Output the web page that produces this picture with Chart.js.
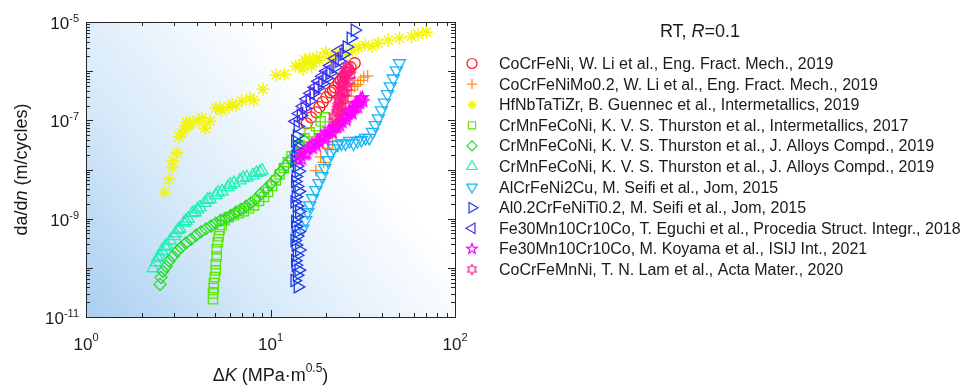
<!DOCTYPE html>
<html>
<head>
<meta charset="utf-8">
<script src="https://cdn.jsdelivr.net/npm/chart.js@4.4.1/dist/chart.umd.min.js"></script>
<style>
  body { margin: 0; background: #fff; }
  canvas { display: block; }
</style>
</head>
<body>
<canvas id="crackChart" width="968" height="387"></canvas>
<script>
// ΔK (MPa·m^0.5) ve da/dN (m/cycle) değerleri
const kCoCrFeNi = [15.7, 16.6, 17.7, 18.4, 19.2, 20.1, 21.1, 21.8, 22.3, 23.4, 24.0, 24.6, 25.8, 26.5, 27.2, 28.6];
const daCoCrFeNi = [8.7e-8, 1.15e-7, 1.45e-7, 1.85e-7, 2.35e-7, 2.95e-7, 3.7e-7, 4.0e-7, 4.7e-7, 5.9e-7, 6.5e-7, 7.5e-7, 9.5e-7, 1.05e-6, 1.2e-6, 1.45e-6];

const kMo = [17.6, 18.7, 19.4, 20.4, 21.7, 22.5, 23.6, 24.6, 25.5, 26.4, 27.5, 28.6, 29.7, 30.8, 32.0, 33.6];
const daMo = [9.5e-9, 1.8e-8, 1.4e-8, 2.7e-8, 3.7e-8, 5.7e-8, 1.0e-7, 1.6e-7, 2.2e-7, 3.1e-7, 4.1e-7, 4.9e-7, 5.4e-7, 6.5e-7, 7.6e-7, 8.0e-7];

const kHf = [2.68, 2.82, 2.93, 2.96, 3.12, 3.19, 3.30, 3.40, 3.50, 3.57, 3.65, 3.80, 4.10, 4.25, 4.41, 4.70, 5.06, 5.30, 5.45, 5.95, 6.2, 6.49, 7.0, 7.73, 8.1, 9.09, 10.7, 11.9, 13.7, 14.3, 15.0, 15.3, 15.7, 16.3, 16.7, 17.1, 17.8, 18.5, 19.9, 21.2, 22.4, 23.6, 25.6, 27.8, 30.0, 32.6, 35.5, 38.3, 43.5, 50.0, 58.0, 63.0, 70.0];
const daHf = [3.5e-9, 6.3e-9, 1.1e-8, 1.5e-8, 2.2e-8, 4.6e-8, 5.5e-8, 6.3e-8, 9.0e-8, 7.9e-8, 8.5e-8, 9.1e-8, 1.0e-7, 1.1e-7, 6.9e-8, 9.6e-8, 1.77e-7, 1.8e-7, 1.6e-7, 1.9e-7, 2.1e-7, 2.0e-7, 2.5e-7, 2.8e-7, 2.55e-7, 4.3e-7, 8.3e-7, 8.7e-7, 1.26e-6, 1.3e-6, 1.1e-6, 1.7e-6, 1.5e-6, 1.8e-6, 1.25e-6, 1.45e-6, 1.9e-6, 1.66e-6, 2.4e-6, 1.8e-6, 2.0e-6, 2.4e-6, 2.3e-6, 2.65e-6, 3.0e-6, 3.4e-6, 3.2e-6, 3.7e-6, 4.3e-6, 4.7e-6, 5.1e-6, 5.6e-6, 6.2e-6];

const kThur17 = [4.88, 4.88, 4.93, 4.93, 4.99, 5.05, 5.05, 5.11, 5.11, 5.17, 5.24, 5.30, 5.44, 5.65, 5.94, 6.34, 6.75, 7.18, 7.65, 8.14, 8.67, 9.23, 9.70, 10.2, 10.7, 11.2, 11.8, 12.4, 13.0, 14.4, 15.3, 16.3, 17.6, 18.7, 19.7];
const daThur17 = [2.3e-11, 3.0e-11, 3.9e-11, 4.9e-11, 6.5e-11, 8.9e-11, 1.2e-10, 1.7e-10, 2.4e-10, 3.3e-10, 4.4e-10, 5.9e-10, 7.4e-10, 9.3e-10, 1.07e-9, 1.17e-9, 1.29e-9, 1.41e-9, 1.62e-9, 1.86e-9, 2.3e-9, 2.75e-9, 3.5e-9, 4.6e-9, 6.0e-9, 7.9e-9, 1.07e-8, 1.41e-8, 1.86e-8, 3.1e-8, 4.3e-8, 5.7e-8, 7.6e-8, 9.6e-8, 1.15e-7];

const kThur19a = [2.52, 2.55, 2.61, 2.72, 2.82, 2.96, 3.12, 3.27, 3.48, 3.71, 3.95, 4.20, 4.47, 4.76, 5.05, 5.39, 5.74, 6.10, 6.49, 6.91, 7.35, 7.83, 8.32, 8.86, 9.43, 10.0, 10.7, 11.4, 12.1, 12.9, 13.7, 14.4, 15.2];
const daThur19a = [4.6e-11, 6.4e-11, 8.5e-11, 1.07e-10, 1.38e-10, 1.73e-10, 2.2e-10, 2.6e-10, 3.2e-10, 3.8e-10, 4.6e-10, 5.4e-10, 6.2e-10, 7.1e-10, 8.1e-10, 9.3e-10, 1.02e-9, 1.17e-9, 1.35e-9, 1.55e-9, 1.78e-9, 2.1e-9, 2.5e-9, 3.2e-9, 4.0e-9, 5.0e-9, 6.6e-9, 9.1e-9, 1.2e-8, 1.6e-8, 2.2e-8, 3.1e-8, 3.9e-8];

const kThur19b = [2.31, 2.40, 2.45, 2.52, 2.58, 2.68, 2.75, 2.86, 3.00, 3.05, 3.15, 3.22, 3.40, 3.48, 3.58, 3.78, 3.90, 4.02, 4.15, 4.41, 4.55, 4.70, 5.05, 5.2, 5.46, 5.88, 6.05, 6.34, 6.83, 7.1, 7.44, 8.03, 8.4, 8.75, 9.0];
const daThur19b = [9.8e-11, 1.3e-10, 1.6e-10, 1.7e-10, 2.2e-10, 2.7e-10, 2.8e-10, 3.6e-10, 4.4e-10, 5.0e-10, 5.9e-10, 6.3e-10, 8.3e-10, 8.9e-10, 1.0e-9, 1.3e-9, 1.35e-9, 1.55e-9, 1.7e-9, 2.1e-9, 2.4e-9, 2.5e-9, 3.0e-9, 3.4e-9, 3.6e-9, 4.4e-9, 4.9e-9, 5.3e-9, 6.0e-9, 6.7e-9, 6.9e-9, 7.6e-9, 8.5e-9, 8.9e-9, 9.5e-9];

const kAlCu = [14.96, 15.5, 15.9, 16.3, 16.9, 17.6, 18.3, 19.0, 19.7, 20.4, 21.2, 22.0, 23.1, 24.3, 25.5, 26.8, 28.2, 29.6, 31.1, 32.7, 34.3, 35.7, 37.0, 38.4, 39.9, 41.4, 43.0, 44.6, 46.3, 48.1, 50.0];
const daAlCu = [6.3e-10, 9.3e-10, 1.35e-9, 1.86e-9, 2.6e-9, 3.8e-9, 5.3e-9, 7.3e-9, 1.07e-8, 1.55e-8, 2.15e-8, 2.7e-8, 3.2e-8, 3.4e-8, 3.4e-8, 3.8e-8, 3.4e-8, 3.8e-8, 4.0e-8, 4.4e-8, 4.4e-8, 5.8e-8, 8.0e-8, 1.1e-7, 1.6e-7, 2.3e-7, 3.4e-7, 4.9e-7, 7.1e-7, 1.04e-6, 1.45e-6];

const kAlTi = [14.05, 13.9, 13.7, 13.9, 13.7, 13.9, 13.7, 13.9, 13.9, 13.7, 13.9, 13.7, 13.9, 13.7, 13.9, 13.9, 14.05, 13.5, 14.2, 13.6, 14.3, 13.5, 14.2, 13.6, 14.3, 13.5, 14.2, 13.6, 14.2, 13.5, 14.1, 13.6, 14.6, 15.3, 16.3, 17.1, 18.0, 19.1, 20.1, 21.1, 22.5, 23.6, 24.9, 25.9, 27.2, 28.6];
const daAlTi = [4.1e-11, 7.1e-11, 1.13e-10, 1.8e-10, 2.9e-10, 4.4e-10, 6.9e-10, 1.1e-9, 1.8e-9, 2.8e-9, 4.5e-9, 7.2e-9, 1.17e-8, 1.87e-8, 2.96e-8, 4.8e-8, 7.6e-8, 5.5e-11, 9.0e-11, 1.4e-10, 2.3e-10, 3.6e-10, 5.5e-10, 8.7e-10, 1.4e-9, 2.2e-9, 3.6e-9, 5.7e-9, 9.2e-9, 1.5e-8, 2.4e-8, 3.8e-8, 1.26e-7, 1.77e-7, 2.47e-7, 3.55e-7, 4.5e-7, 5.6e-7, 7.2e-7, 9.1e-7, 1.2e-6, 1.6e-6, 2.2e-6, 3.1e-6, 4.7e-6, 6.8e-6];

const kEguchi = [13.7, 14.3, 15.0, 15.7, 16.5, 17.4, 18.2, 19.1, 20.1, 21.1, 22.3, 23.4];
const daEguchi = [9.5e-8, 1.38e-7, 1.93e-7, 2.7e-7, 3.55e-7, 4.7e-7, 6.2e-7, 7.9e-7, 1.0e-6, 1.3e-6, 1.8e-6, 2.6e-6];

const kKoyama = [14.2, 14.5, 14.8, 15.0, 15.5, 15.8, 16.0, 16.5, 16.8, 17.0, 17.5, 17.8, 18.0, 18.5, 18.8, 19.0, 19.5, 19.8, 20.0, 20.5, 20.8, 21.0, 21.5, 21.8, 22.0, 22.5, 22.8, 23.0, 23.5, 23.8, 24.0, 24.5, 24.8, 25.0, 25.5, 25.8, 26.0, 26.5, 26.8, 27.0, 27.5, 27.8, 28.0, 28.5, 28.8, 29.0, 29.5, 29.8, 30.0, 30.5, 30.8, 31.0, 31.5, 31.8];
const daKoyama = [1.6e-8, 1.9e-8, 1.6e-8, 2.2e-8, 2.0e-8, 2.1e-8, 2.6e-8, 2.9e-8, 3.3e-8, 2.7e-8, 3.4e-8, 3.0e-8, 3.8e-8, 3.5e-8, 4.9e-8, 4.4e-8, 4.8e-8, 4.0e-8, 4.5e-8, 5.6e-8, 6.6e-8, 6.0e-8, 5.8e-8, 5.5e-8, 7.0e-8, 7.5e-8, 8.5e-8, 7.2e-8, 8.6e-8, 7.6e-8, 9.5e-8, 9.0e-8, 1.25e-7, 1.1e-7, 1.2e-7, 1.0e-7, 1.15e-7, 1.35e-7, 1.6e-7, 1.5e-7, 1.45e-7, 1.35e-7, 1.7e-7, 1.85e-7, 2.2e-7, 1.8e-7, 2.1e-7, 1.8e-7, 2.3e-7, 2.2e-7, 2.8e-7, 2.6e-7, 2.9e-7, 2.4e-7];

const kLam = [22.0, 22.5, 22.8, 23.0, 23.2, 23.4, 23.6, 23.7, 23.9, 24.0, 24.2, 24.3, 24.3, 24.5, 24.6, 24.7, 24.9, 24.9, 25.0, 25.1, 25.2, 25.4, 25.5, 25.5, 25.9, 26.1, 26.1, 26.4, 26.8, 27.2];
const daLam = [1.2e-7, 1.0e-7, 1.45e-7, 1.7e-7, 1.9e-7, 2.6e-7, 2.3e-7, 3.2e-7, 1.6e-7, 4.1e-7, 2.9e-7, 4.9e-7, 2.0e-7, 5.2e-7, 5.9e-7, 3.8e-7, 7.2e-7, 2.7e-7, 5.4e-7, 7.8e-7, 8.7e-7, 6.6e-7, 1.05e-6, 3.6e-7, 9.5e-7, 1.26e-6, 4.7e-7, 1.15e-6, 6.4e-7, 8.3e-7];

const legendLabels = [
  "CoCrFeNi, W. Li et al., Eng. Fract. Mech., 2019",
  "CoCrFeNiMo0.2, W. Li et al., Eng. Fract. Mech., 2019",
  "HfNbTaTiZr, B. Guennec et al., Intermetallics, 2019",
  "CrMnFeCoNi, K. V. S. Thurston et al., Intermetallics, 2017",
  "CrMnFeCoNi, K. V. S. Thurston et al., J. Alloys Compd., 2019",
  "CrMnFeCoNi, K. V. S. Thurston et al., J. Alloys Compd., 2019",
  "AlCrFeNi2Cu, M. Seifi et al., Jom, 2015",
  "Al0.2CrFeNiTi0.2, M. Seifi et al., Jom, 2015",
  "Fe30Mn10Cr10Co, T. Eguchi et al., Procedia Struct. Integr., 2018",
  "Fe30Mn10Cr10Co, M. Koyama et al., ISIJ Int., 2021",
  "CoCrFeMnNi, T. N. Lam et al., Acta Mater., 2020",
];
const xTickExps = [0, 1, 2];
const yTickExps = [-5, -7, -9, -11];

const FONT = 'Arial, "Liberation Sans", sans-serif';

// Yıldız şekilli işaretçiler (pentagram, hexagram) için küçük canvas
function starMarker(points, rOut, rIn, color, lw) {
  const s = Math.ceil(rOut * 2 + lw * 2 + 2);
  const c = document.createElement("canvas");
  c.width = s; c.height = s;
  const g = c.getContext("2d");
  g.strokeStyle = color;
  g.lineWidth = lw;
  g.beginPath();
  for (let i = 0; i < points * 2; i++) {
    const r = i % 2 ? rIn : rOut;
    const a = -Math.PI / 2 + i * Math.PI / points;
    const px = s / 2 + r * Math.cos(a), py = s / 2 + r * Math.sin(a);
    if (i === 0) g.moveTo(px, py); else g.lineTo(px, py);
  }
  g.closePath();
  g.stroke();
  return c;
}

const toPts = (k, da) => k.map((v, i) => ({ x: v, y: da[i] }));

const series = [
  { k: kCoCrFeNi, da: daCoCrFeNi, color: "#ff1a1a", style: "circle", r: 5.5 },
  { k: kMo, da: daMo, color: "#ff8a1a", style: "cross", r: 6 },
  { k: kHf, da: daHf, color: "#f2f50a", style: "star", r: 6.5, lw: 1.5 },
  { k: kThur17, da: daThur17, color: "#5ce600", style: "rect", r: 6.5 },
  { k: kThur19a, da: daThur19a, color: "#22dd22", style: "rectRot", r: 6 },
  { k: kThur19b, da: daThur19b, color: "#1ff0b4", style: "triangle", r: 7 },
  { k: kAlCu, da: daAlCu, color: "#1ab4f5", style: "triangle", r: 7, rot: 180 },
  { k: kAlTi, da: daAlTi, color: "#1a3ce6", style: "triangle", r: 7, rot: 90 },
  { k: kEguchi, da: daEguchi, color: "#4b2cf0", style: "triangle", r: 7, rot: -90 },
  { k: kKoyama, da: daKoyama, color: "#ff00ff", style: starMarker(5, 6, 2.5, "#ff00ff", 1.3), r: 6 },
  { k: kLam, da: daLam, color: "#ff1a8c", style: starMarker(6, 5.5, 3.1, "#ff1a8c", 1.3), r: 6 },
];

const legendStyles = [
  { pointStyle: "circle", radius: 5 },
  { pointStyle: "cross", radius: 5 },
  { pointStyle: "star", radius: 4.5 },
  { pointStyle: "rect", radius: 5 },
  { pointStyle: "rectRot", radius: 5 },
  { pointStyle: "triangle", radius: 6 },
  { pointStyle: "triangle", radius: 6, rotation: 180 },
  { pointStyle: "triangle", radius: 6, rotation: 90 },
  { pointStyle: "triangle", radius: 6, rotation: -90 },
  { pointStyle: starMarker(5, 5.5, 2.3, "#ff00ff", 1.2), radius: 5 },
  { pointStyle: starMarker(6, 5, 2.9, "#ff1a8c", 1.2), radius: 5 },
];

function pow10Label(ctx, exp, x, y, align, lift) {
  ctx.font = "17px " + FONT;
  const w1 = ctx.measureText("10").width;
  ctx.font = "11px " + FONT;
  const w2 = ctx.measureText(exp).width;
  const x0 = align === "right" ? x - w1 - w2 : x - (w1 + w2) / 2;
  ctx.textAlign = "left";
  ctx.textBaseline = "alphabetic";
  ctx.font = "17px " + FONT;
  ctx.fillText("10", x0, y);
  ctx.font = "11px " + FONT;
  ctx.fillText(exp, x0 + w1, y - lift);
}

// Parçalı metin (italik / üst simge) çizimi
function drawRuns(ctx, runs, x, y, align) {
  let total = 0;
  runs.forEach((r) => { ctx.font = r.font; r.w = ctx.measureText(r.t).width; total += r.w; });
  let cx = align === "center" ? x - total / 2 : x;
  ctx.textAlign = "left";
  ctx.textBaseline = "alphabetic";
  runs.forEach((r) => { ctx.font = r.font; ctx.fillText(r.t, cx, y - (r.dy || 0)); cx += r.w; });
}

const backgroundPlugin = {
  id: "gradientBg",
  beforeDatasetsDraw(chart) {
    const { ctx, chartArea: a } = chart;
    const g = ctx.createLinearGradient(a.left, a.bottom, a.right, a.top);
    g.addColorStop(0, "#a9cff1");
    g.addColorStop(0.3, "#d6e9f9");
    g.addColorStop(0.68, "#ffffff");
    g.addColorStop(1, "#ffffff");
    ctx.save();
    ctx.fillStyle = g;
    ctx.fillRect(a.left, a.top, a.right - a.left, a.bottom - a.top);
    ctx.restore();
  },
};

const axesPlugin = {
  id: "matlabAxes",
  afterDatasetsDraw(chart) {
    const { ctx, chartArea: a } = chart;
    const xs = chart.scales.x, ys = chart.scales.y;
    ctx.save();
    ctx.strokeStyle = "#262626";
    ctx.lineWidth = 1;
    ctx.strokeRect(a.left + 0.5, a.top + 0.5, a.right - a.left, a.bottom - a.top);

    // x ekseni tikleri (alt ve üst, içe doğru)
    ctx.beginPath();
    for (let e = 0; e < 2; e++) {
      for (let m = 1; m <= 9; m++) {
        const px = Math.round(xs.getPixelForValue(m * Math.pow(10, e))) + 0.5;
        const len = m === 1 ? 7 : 4;
        ctx.moveTo(px, a.bottom); ctx.lineTo(px, a.bottom - len);
        ctx.moveTo(px, a.top); ctx.lineTo(px, a.top + len);
      }
    }
    // y ekseni tikleri (sol ve sağ)
    for (let e = -11; e < -5; e++) {
      for (let m = 1; m <= 9; m++) {
        const py = Math.round(ys.getPixelForValue(m * Math.pow(10, e))) + 0.5;
        const len = m === 1 ? 7 : 4;
        ctx.moveTo(a.left, py); ctx.lineTo(a.left + len, py);
        ctx.moveTo(a.right, py); ctx.lineTo(a.right - len, py);
      }
    }
    ctx.stroke();

    ctx.fillStyle = "#1a1a1a";
    xTickExps.forEach((e) => {
      pow10Label(ctx, String(e), xs.getPixelForValue(Math.pow(10, e)), 350, "center", 9);
    });
    yTickExps.forEach((e) => {
      pow10Label(ctx, String(e), 79, ys.getPixelForValue(Math.pow(10, e)) + 7, "right", 7);
    });

    // Eksen başlıkları
    const f18 = "18px " + FONT, f18i = "italic 18px " + FONT, f12 = "12px " + FONT;
    drawRuns(ctx, [
      { t: "\u0394", font: f18 }, { t: "K", font: f18i }, { t: " (MPa\u00b7m", font: f18 },
      { t: "0.5", font: f12, dy: 9 }, { t: ")", font: f18 },
    ], (a.left + a.right) / 2, 381, "center");

    ctx.save();
    ctx.translate(27, (a.top + a.bottom) / 2);
    ctx.rotate(-Math.PI / 2);
    drawRuns(ctx, [
      { t: "da/d", font: f18 }, { t: "n", font: f18i }, { t: " (m/cycles)", font: f18 },
    ], 0, 0, "center");
    ctx.restore();

    // Lejant başlığı ve öğeleri
    drawRuns(ctx, [
      { t: "RT, ", font: f18 }, { t: "R", font: f18i }, { t: "=0.1", font: f18 },
    ], 700, 37, "center");

    legendLabels.forEach((label, i) => {
      const y = 63.5 + i * 20.6;
      const st = legendStyles[i];
      ctx.strokeStyle = series[i].color;
      ctx.fillStyle = "rgba(0,0,0,0)";
      ctx.lineWidth = i === 2 ? 1.6 : 1.2;
      if (Chart.helpers && Chart.helpers.drawPoint) {
        Chart.helpers.drawPoint(ctx, { pointStyle: st.pointStyle, rotation: st.rotation || 0, radius: st.radius, borderWidth: 1.2 }, 472, y);
      }
      ctx.fillStyle = "#1a1a1a";
      ctx.font = "16px " + FONT;
      ctx.textAlign = "left";
      ctx.textBaseline = "middle";
      ctx.fillText(label, 499, y + 1);
    });
    ctx.restore();
  },
};

const datasets = series.map((s, i) => ({
  label: legendLabels[i],
  data: toPts(s.k, s.da),
  pointStyle: s.style,
  pointRadius: s.r,
  pointRotation: s.rot || 0,
  pointBorderColor: s.color,
  pointBackgroundColor: "rgba(0,0,0,0)",
  pointBorderWidth: s.lw || 1.3,
  showLine: false,
  order: series.length - i,
}));

new Chart(document.getElementById("crackChart").getContext("2d"), {
  type: "scatter",
  data: { datasets },
  options: {
    responsive: false,
    animation: false,
    layout: { padding: { left: 86, right: 513, top: 22, bottom: 70 } },
    scales: {
      x: { type: "logarithmic", min: 1, max: 100, display: false },
      y: { type: "logarithmic", min: 1e-11, max: 1e-5, display: false },
    },
    plugins: { legend: { display: false }, tooltip: { enabled: false } },
  },
  plugins: [backgroundPlugin, axesPlugin],
});
</script>
</body>
</html>
